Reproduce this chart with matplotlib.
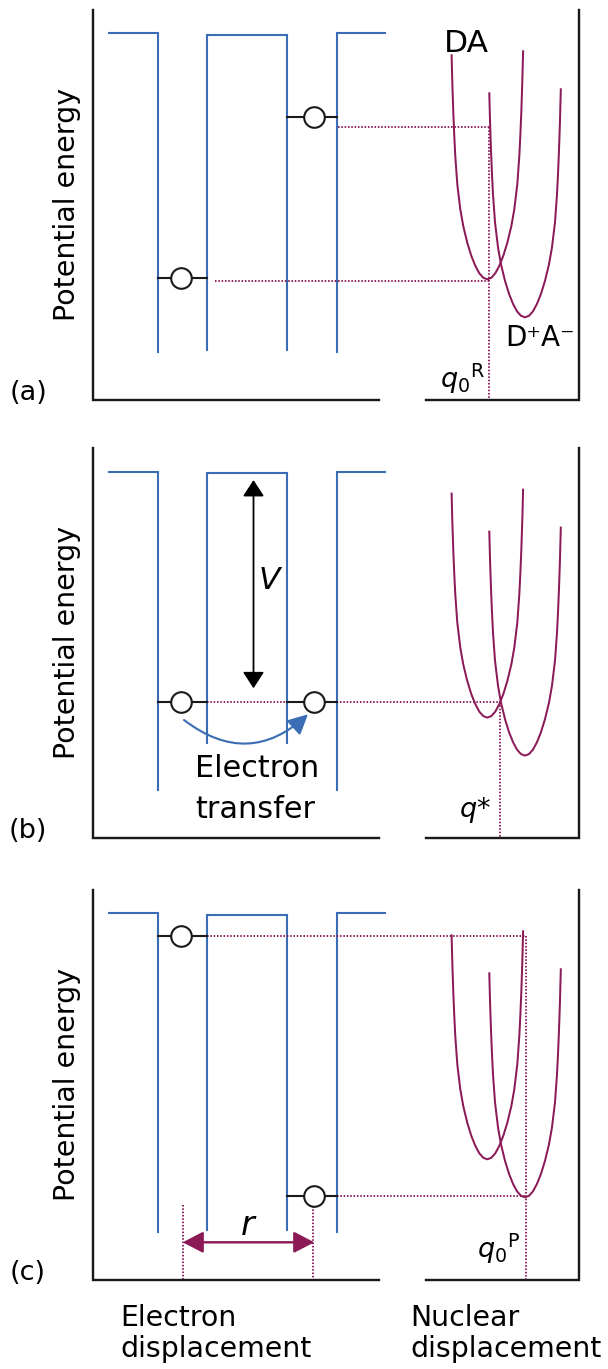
import matplotlib
matplotlib.use("Agg")
import matplotlib.pyplot as plt
from matplotlib.patches import FancyArrowPatch, ArrowStyle

plt.rcParams["font.family"] = ["DejaVu Sans"]
plt.rcParams["mathtext.fontset"] = "dejavusans"

# ---------------- data (pixel-space diagram coordinates) ----------------
PANEL_LABELS = ["(a)", "(b)", "(c)"]
PANEL_OFFSET = [0.0, 438.3, 880.0]

FRAME_TOP, FRAME_BOTTOM = 10.0, 399.7
FRAME_LEFT_X, FRAME_RIGHT_X = 93.3, 579.3
BASE_LEFT_END, BASE_RIGHT_START = 379.3, 426.0

LEAD_X = [109.3, 385.3]
WALL_X = [157.5, 207.3, 287.3, 337.2]
OUTER_TOP, MIDDLE_TOP = 33.3, 35.0
OUTER_BOTTOM = 351.7
MIDDLE_BOTTOM = [350.0, 305.0, 350.0]

LEFT_CIRCLE_X, RIGHT_CIRCLE_X = 180.7, 313.5
LEFT_LEVEL_Y = [278.3, 263.4, 56.0]
RIGHT_LEVEL_Y = [116.7, 263.4, 316.0]
CIRCLE_R = 10.3

# potential-energy curves (DA, D+A-): minimum position and read-off profile
CURVE_MIN_X = [487.3, 525.0]
CURVE_MIN_Y = [279.3, 317.3]
PROFILE_DX = [0, 4, 8, 12, 16, 20, 24, 27, 30, 32, 33, 34, 35, 35.7]
PROFILE_RISE = [0, 1.5, 6.0, 13.5, 23.5, 36.5, 53, 70, 95, 123, 143, 167, 197, 224]
RIGHT_TOP_DX, RIGHT_TOP_RISE = 35.8, 228

# dotted guide lines per panel: horizontal (x0, x1, y), vertical (x, y0, y1)
H_DOTS = [[(338.0, 488.5, 126.7), (215.0, 488.5, 280.7)],
          [(207.3, 500.3, 263.4)],
          [(207.3, 525.5, 56.0), (337.2, 525.5, 316.0)]]
V_DOTS = [[(488.5, 126.7, FRAME_BOTTOM)],
          [(500.3, 263.4, FRAME_BOTTOM)],
          [(525.5, 56.0, FRAME_BOTTOM), (182.7, 325.0, FRAME_BOTTOM),
           (312.7, 326.0, FRAME_BOTTOM)]]

Q_LABELS = [r"$q_0{}^{\mathrm{R}}$", r"$q$*", r"$q_0{}^{\mathrm{P}}$"]
Q_RIGHT_X = [485.0, 491.0, 520.5]
Q_BASE_Y = [387.5, 378.4, 378.3]

BLUE = "#3a6db3"
MAROON = "#8b1a57"
PX = 72.0 / 100.0  # points per pixel

fig = plt.figure(figsize=(6.08, 13.69), dpi=100)
ax = fig.add_axes([0, 0, 1, 1])
ax.set_xlim(0, 608)
ax.set_ylim(1369, 0)
ax.axis("off")

dot_style = dict(color=MAROON, lw=1.9 * PX, linestyle=(0, (0.8, 0.95)), zorder=2)

for p, off in enumerate(PANEL_OFFSET):
    # frame
    ax.plot([FRAME_LEFT_X, FRAME_LEFT_X, BASE_LEFT_END],
            [off + FRAME_TOP, off + FRAME_BOTTOM, off + FRAME_BOTTOM],
            color="#1a1a1a", lw=2.4 * PX, solid_joinstyle="miter", zorder=3)
    ax.plot([BASE_RIGHT_START, FRAME_RIGHT_X, FRAME_RIGHT_X],
            [off + FRAME_BOTTOM, off + FRAME_BOTTOM, off + FRAME_TOP],
            color="#1a1a1a", lw=2.4 * PX, solid_joinstyle="miter", zorder=3)

    # wells
    ax.plot([LEAD_X[0], WALL_X[0], WALL_X[0]],
            [off + OUTER_TOP, off + OUTER_TOP, off + OUTER_BOTTOM],
            color=BLUE, lw=2.1 * PX, solid_joinstyle="miter", zorder=2)
    mb = MIDDLE_BOTTOM[p]
    ax.plot([WALL_X[1], WALL_X[1], WALL_X[2], WALL_X[2]],
            [off + mb, off + MIDDLE_TOP, off + MIDDLE_TOP, off + mb],
            color=BLUE, lw=2.1 * PX, solid_joinstyle="miter", zorder=2)
    ax.plot([WALL_X[3], WALL_X[3], LEAD_X[1]],
            [off + OUTER_BOTTOM, off + OUTER_TOP, off + OUTER_TOP],
            color=BLUE, lw=2.1 * PX, solid_joinstyle="miter", zorder=2)

    # dotted guides
    for x0, x1, y in H_DOTS[p]:
        ax.plot([x0, x1], [off + y, off + y], **dot_style)
    for x, y0, y1 in V_DOTS[p]:
        ax.plot([x, x], [off + y0, off + y1], **dot_style)

    # electron levels with circles
    for (xa, xb), cx, ly in (((WALL_X[0], WALL_X[1]), LEFT_CIRCLE_X, LEFT_LEVEL_Y[p]),
                              ((WALL_X[2], WALL_X[3]), RIGHT_CIRCLE_X, RIGHT_LEVEL_Y[p])):
        ax.plot([xa, xb], [off + ly, off + ly], color="#1a1a1a", lw=2.1 * PX, zorder=4)
        ax.plot([cx], [off + ly], marker="o", ms=2 * CIRCLE_R * PX, mfc="white",
                mec="#1a1a1a", mew=2.1 * PX, zorder=5)

    # potential curves
    for cxm, cym in zip(CURVE_MIN_X, CURVE_MIN_Y):
        lx = [cxm - d for d in PROFILE_DX[::-1]]
        ly = [off + cym - r for r in PROFILE_RISE[::-1]]
        rx = [cxm + d for d in PROFILE_DX[1:-1]] + [cxm + RIGHT_TOP_DX]
        ry = [off + cym - r for r in PROFILE_RISE[1:-1]] + [off + cym - RIGHT_TOP_RISE]
        ax.plot(lx + rx, ly + ry, color=MAROON, lw=2.0 * PX,
                solid_joinstyle="round", zorder=3)

    # labels
    ax.text(67, off + 204.2, "Potential energy", rotation=90, ha="center",
            va="center", fontsize=20.5)
    ax.text(28, off + 392.5, PANEL_LABELS[p], ha="center", va="center",
            fontsize=19.5)
    ax.text(Q_RIGHT_X[p], off + Q_BASE_Y[p], Q_LABELS[p], ha="right",
            va="baseline", fontsize=19.5)

# panel (a) texts
ax.text(444, 51.7, "DA", ha="left", va="baseline", fontsize=22.5)
ax.text(505.0, 346.5, "D\u207aA\u207b", ha="left", va="baseline", fontsize=20)

# panel (b): V arrow, electron transfer arrow and text
offb = PANEL_OFFSET[1]
ax.annotate("", xy=(253.5, offb + 41.7), xytext=(253.5, offb + 250.0),
            arrowprops=dict(arrowstyle=ArrowStyle("<|-|>", head_length=1.0, head_width=0.65),
                            mutation_scale=10, color="black", lw=1.8 * PX,
                            shrinkA=0, shrinkB=0), zorder=4)
ax.text(269.5, offb + 142, "V", style="italic", ha="center", va="center", fontsize=22.5)
arr = FancyArrowPatch((184.0, offb + 281.7), (308.0, offb + 276.0),
                      connectionstyle="arc3,rad=0.42",
                      arrowstyle=ArrowStyle("-|>", head_length=1.1, head_width=0.55),
                      mutation_scale=11, color=BLUE, lw=2.1 * PX,
                      shrinkA=0, shrinkB=0, zorder=4)
ax.add_patch(arr)
ax.text(195, offb + 338.4, "Electron", ha="left", va="baseline", fontsize=21.8)
ax.text(195, offb + 380.0, "transfer", ha="left", va="baseline", fontsize=21.8)

# panel (c): r arrow
offc = PANEL_OFFSET[2]
ax.annotate("", xy=(182.7, offc + 362.3), xytext=(314.3, offc + 362.3),
            arrowprops=dict(arrowstyle=ArrowStyle("<|-|>", head_length=1.25, head_width=0.65),
                            mutation_scale=10, color=MAROON, lw=2.4 * PX,
                            shrinkA=0, shrinkB=0), zorder=4)
ax.text(247.5, offc + 355.0, "r", style="italic", ha="center", va="baseline", fontsize=24)

# bottom axis labels
ax.text(120.7, 1325.7, "Electron", ha="left", va="baseline", fontsize=20.4)
ax.text(120.7, 1356.7, "displacement", ha="left", va="baseline", fontsize=20.4)
ax.text(410.0, 1325.7, "Nuclear", ha="left", va="baseline", fontsize=20.4)
ax.text(410.0, 1356.7, "displacement", ha="left", va="baseline", fontsize=20.4)

fig.savefig("out.png", dpi=100)
